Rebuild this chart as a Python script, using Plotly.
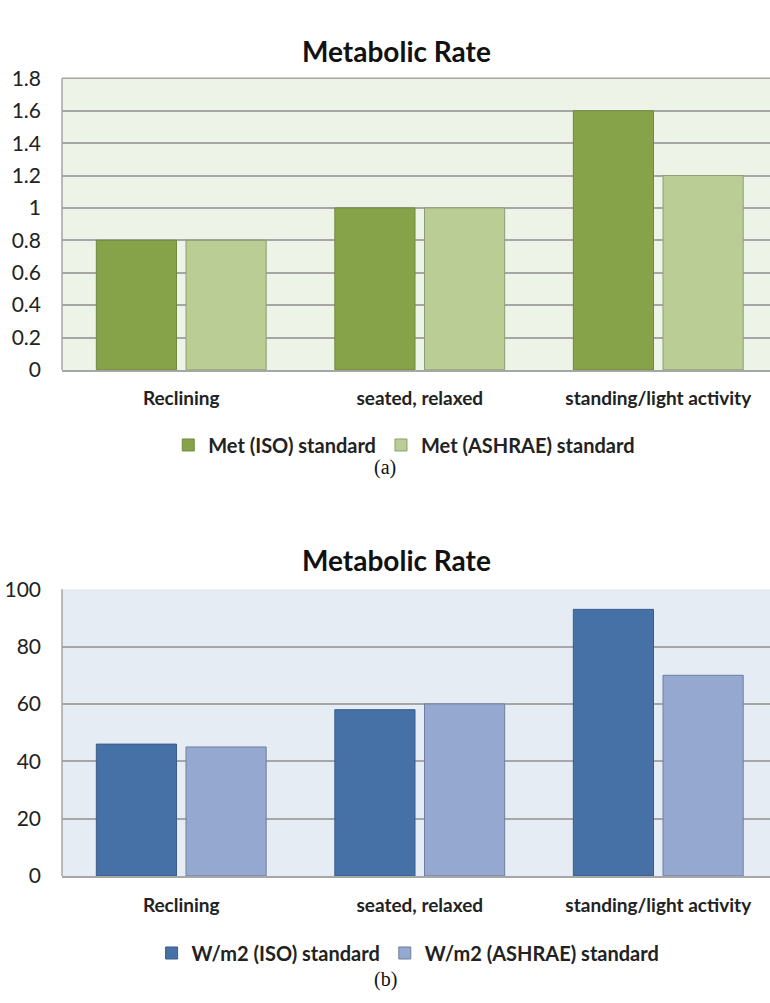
import plotly.graph_objects as go

categories = ["Reclining", "seated, relaxed", "standing/light activity"]
met_iso = [0.8, 1.0, 1.6]
met_ashrae = [0.8, 1.0, 1.2]
wm2_iso = [46, 58, 93]
wm2_ashrae = [45, 60, 70]
met_ticks = [0, 0.2, 0.4, 0.6, 0.8, 1, 1.2, 1.4, 1.6, 1.8]
wm2_ticks = [0, 20, 40, 60, 80, 100]

W, H = 770, 1003
FONT = "Lato"

def py(pix):
    return 1 - pix / H

fig = go.Figure()
fig.add_trace(go.Bar(x=categories, y=met_iso, name="Met (ISO) standard",
                     marker=dict(color="#87A34A", line=dict(color="#6F8A3C", width=1)),
                     xaxis="x", yaxis="y", legend="legend"))
fig.add_trace(go.Bar(x=categories, y=met_ashrae, name="Met (ASHRAE) standard",
                     marker=dict(color="#B9CD94", line=dict(color="#8E9E74", width=1)),
                     xaxis="x", yaxis="y", legend="legend"))
fig.add_trace(go.Bar(x=categories, y=wm2_iso, name="W/m2 (ISO) standard",
                     marker=dict(color="#4671A7", line=dict(color="#395C88", width=1)),
                     xaxis="x2", yaxis="y2", legend="legend2"))
fig.add_trace(go.Bar(x=categories, y=wm2_ashrae, name="W/m2 (ASHRAE) standard",
                     marker=dict(color="#95A9D0", line=dict(color="#6E7E9E", width=1)),
                     xaxis="x2", yaxis="y2", legend="legend2"))

xr = [-0.5, 2.4685]
x0 = 62 / W
common_x = dict(range=xr, domain=[x0, 1], showgrid=False, showline=True,
                linecolor="#A6A6A6", linewidth=1.5, ticks="",
                tickfont=dict(family=FONT, size=19, color="#222222", weight="bold"),
                ticklabelstandoff=11, fixedrange=True)
common_y = dict(showgrid=True, gridcolor="#A6A6A6", gridwidth=1.5, zeroline=False,
                showline=False, ticks="",
                tickfont=dict(family=FONT, size=21, color="#222222"),
                ticklabelstandoff=20, fixedrange=True)

fig.update_layout(
    width=W, height=H,
    margin=dict(l=0, r=0, t=0, b=0),
    paper_bgcolor="white",
    barmode="group", bargap=0.248, bargroupgap=0.106,
    xaxis=dict(**common_x, anchor="y"),
    yaxis=dict(**common_y, anchor="x", domain=[py(365), py(66)], range=[0, 1.8],
               tickvals=met_ticks, ticktext=[f"{v:g}" for v in met_ticks]),
    xaxis2=dict(**common_x, anchor="y2"),
    yaxis2=dict(**common_y, anchor="x2", domain=[py(884), py(590)], range=[0, 100],
                tickvals=wm2_ticks, ticktext=[str(v) for v in wm2_ticks]),
    legend=dict(orientation="h", x=0.525, xanchor="center", y=py(442), yanchor="middle",
                font=dict(family=FONT, size=20, color="#222222", weight="bold"),
                bgcolor="rgba(0,0,0,0)", itemwidth=30, traceorder="normal"),
    legend2=dict(orientation="h", x=0.53, xanchor="center", y=py(963), yanchor="middle",
                 font=dict(family=FONT, size=20, color="#222222", weight="bold"),
                 bgcolor="rgba(0,0,0,0)", itemwidth=30, traceorder="normal"),
    annotations=[
        dict(text="Metabolic Rate", x=0.515, y=py(38), xref="paper", yref="paper",
             yanchor="middle", showarrow=False,
             font=dict(family=FONT, size=28, color="#111111", weight="bold")),
        dict(text="Metabolic Rate", x=0.515, y=py(560), xref="paper", yref="paper",
             yanchor="middle", showarrow=False,
             font=dict(family=FONT, size=28, color="#111111", weight="bold")),
        dict(text="(a)", x=0.5, y=py(465), xref="paper", yref="paper",
             yanchor="middle", showarrow=False,
             font=dict(family="Liberation Serif", size=20, color="#111111")),
        dict(text="(b)", x=0.5, y=py(990), xref="paper", yref="paper",
             yanchor="middle", showarrow=False,
             font=dict(family="Liberation Serif", size=20, color="#111111")),
    ],
)
fig.update_layout(plot_bgcolor="#EEF3E7")
fig.add_shape(type="rect", xref="x2 domain", yref="y2 domain", x0=0, x1=1, y0=0, y1=1,
              fillcolor="#E6ECF4", line=dict(width=0), layer="below")
fig.add_shape(type="line", xref="x domain", yref="y domain", x0=0, x1=1, y0=1, y1=1,
              line=dict(color="#A6A6A6", width=1.5), layer="below")
fig.add_shape(type="line", xref="x domain", yref="y domain", x0=0, x1=0, y0=0, y1=1,
              line=dict(color="#A6A6A6", width=1.5), layer="below")
fig.add_shape(type="line", xref="x2 domain", yref="y2 domain", x0=0, x1=0, y0=0, y1=1,
              line=dict(color="#A6A6A6", width=1.5), layer="below")

fig.write_html("out.html", config={"displayModeBar": False},
               post_script="document.body.style.margin='0px';document.body.style.overflow='hidden';")
